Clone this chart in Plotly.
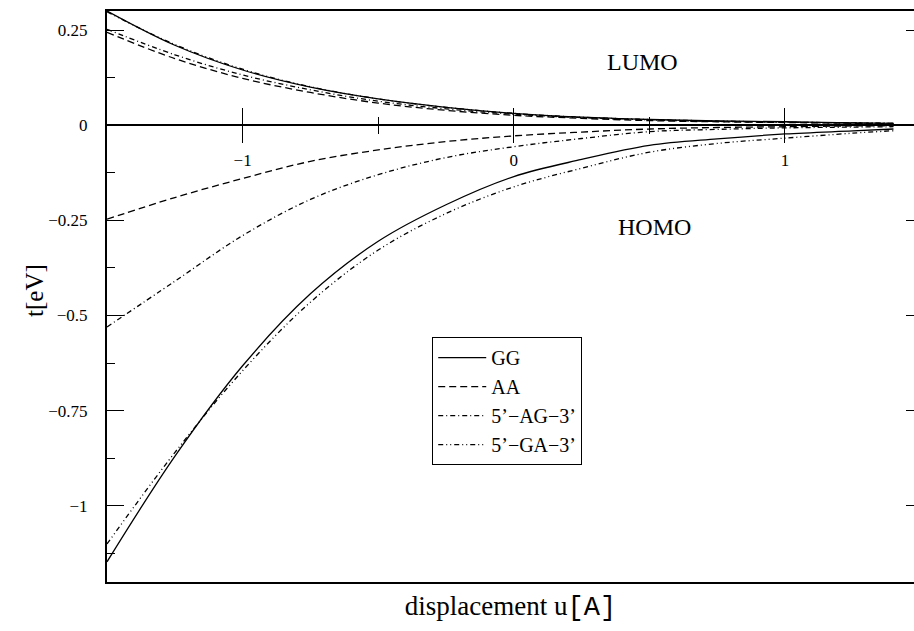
import plotly.graph_objects as go

# displacement u [A]
u = [-1.5, -1.25, -1.0, -0.75, -0.5, -0.25, 0.0, 0.25, 0.5, 0.75, 1.0, 1.25, 1.4]

series_names = ["GG", "AA", "5’−AG−3’", "5’−GA−3’"]

# LUMO transfer integrals t [eV]
lumo_GG = [0.300, 0.210, 0.145, 0.100, 0.069, 0.047, 0.031, 0.021, 0.015, 0.011, 0.009, 0.006, 0.005]
lumo_AA = [0.244, 0.175, 0.123, 0.086, 0.058, 0.039, 0.026, 0.018, 0.012, 0.009, 0.007, 0.005, 0.004]
lumo_AG = [0.252, 0.185, 0.132, 0.093, 0.063, 0.043, 0.029, 0.020, 0.014, 0.010, 0.008, 0.006, 0.005]
lumo_GA = [0.298, 0.212, 0.147, 0.101, 0.069, 0.047, 0.031, 0.021, 0.015, 0.011, 0.008, 0.006, 0.005]

# HOMO transfer integrals t [eV]
homo_GG = [-1.147, -0.870, -0.632, -0.443, -0.305, -0.209, -0.135, -0.090, -0.053, -0.036, -0.023, -0.015, -0.010]
homo_AA = [-0.247, -0.190, -0.140, -0.095, -0.065, -0.043, -0.028, -0.018, -0.010, -0.006, -0.004, -0.002, -0.0015]
homo_AG = [-0.530, -0.410, -0.290, -0.195, -0.130, -0.085, -0.0565, -0.035, -0.017, -0.011, -0.007, -0.005, -0.004]
homo_GA = [-1.100, -0.860, -0.645, -0.465, -0.328, -0.232, -0.162, -0.113, -0.071, -0.048, -0.034, -0.021, -0.0145]

lumo = [lumo_GG, lumo_AA, lumo_AG, lumo_GA]
homo = [homo_GG, homo_AA, homo_AG, homo_GA]
dashes = ["solid", "7px,4px", "5px,3px,1px,3px", "5px,3px,1px,3px,1px,3px"]

y_ticks = [0.25, 0, -0.25, -0.5, -0.75, -1]
x_ticks = [-1, 0, 1]
x_minor = [-0.5, 0.5]

SERIF = "Liberation Serif"

fig = go.Figure()
for name, lo, ho, d in zip(series_names, lumo, homo, dashes):
    fig.add_trace(go.Scatter(x=u, y=ho, mode="lines", name=name, legendgroup=name,
                             line=dict(color="black", width=1.3, dash=d, shape="spline", smoothing=1.0)))
    fig.add_trace(go.Scatter(x=u, y=lo, mode="lines", name=name, legendgroup=name, showlegend=False,
                             line=dict(color="black", width=1.3, dash=d, shape="spline", smoothing=1.0)))

XR = [-1.5, 1.4757]
YR = [-1.2, 0.3]

fig.update_layout(
    width=914, height=631,
    margin=dict(l=107, r=0, t=11, b=49),
    paper_bgcolor="white", plot_bgcolor="white",
    font=dict(family=SERIF, color="black", size=17),
    showlegend=True,
    legend=dict(x=0.403, y=0.429, xanchor="left", yanchor="top",
                bordercolor="black", borderwidth=1, bgcolor="white",
                font=dict(family=SERIF, size=20), itemwidth=48, tracegroupgap=0),
    xaxis=dict(range=XR, anchor="free", position=0.8, showgrid=False, zeroline=False,
               showline=True, linecolor="black", linewidth=1.5,
               tickmode="array", tickvals=x_ticks, ticks="outside", ticklen=17, tickwidth=1.2,
               tickcolor="black", tickfont=dict(family=SERIF, size=17), ticklabelstandoff=3,
               minor=dict(tickmode="array", tickvals=x_minor, ticks="outside", ticklen=8, tickwidth=1.2, tickcolor="black")),
    xaxis2=dict(range=XR, overlaying="x", anchor="free", position=0.8, side="top",
                showgrid=False, zeroline=False, showline=False, showticklabels=False,
                tickmode="array", tickvals=x_ticks, ticks="outside", ticklen=17, tickwidth=1.2, tickcolor="black",
                minor=dict(tickmode="array", tickvals=x_minor, ticks="outside", ticklen=8, tickwidth=1.2, tickcolor="black")),
    xaxis3=dict(range=XR, overlaying="x", anchor="y", side="bottom", showgrid=False, zeroline=False,
                showline=True, mirror=True, linecolor="black", linewidth=2,
                showticklabels=False, ticks="",
                title=dict(text='displacement u<span style="font-family:Liberation Mono">[A]</span>',
                           font=dict(family=SERIF, size=27), standoff=13)),
    yaxis=dict(range=YR, showgrid=False, zeroline=False, showline=True, linecolor="black", linewidth=2,
               tickmode="array", tickvals=y_ticks, ticks="inside", ticklen=17, tickwidth=1.2, tickcolor="black",
               tickfont=dict(family=SERIF, size=17), ticklabelstandoff=14,
               minor=dict(dtick=0.125, tick0=0, ticks="inside", ticklen=8, tickwidth=1.2, tickcolor="black")),
    yaxis2=dict(range=YR, overlaying="y", side="right", anchor="x", showgrid=False, zeroline=False,
                showline=False, showticklabels=False,
                tickmode="array", tickvals=y_ticks, ticks="inside", ticklen=8, tickwidth=1.2, tickcolor="black"),
)

# invisible helper traces so the overlay axes render
fig.add_trace(go.Scatter(x=[XR[0]], y=[0], xaxis="x2", yaxis="y", mode="markers",
                         marker=dict(opacity=0), showlegend=False, hoverinfo="skip"))
fig.add_trace(go.Scatter(x=[XR[0]], y=[0], xaxis="x3", yaxis="y2", mode="markers",
                         marker=dict(opacity=0), showlegend=False, hoverinfo="skip"))

# y-axis title placed as an annotation for precise position
fig.add_annotation(xref="paper", yref="paper", x=-0.089, y=0.51, text="t[eV]", textangle=-90,
                   showarrow=False, xanchor="center", yanchor="middle", font=dict(family=SERIF, size=25))

fig.add_annotation(x=0.476, y=0.166, text="LUMO", showarrow=False, font=dict(family=SERIF, size=24))
fig.add_annotation(x=0.52, y=-0.268, text="HOMO", showarrow=False, font=dict(family=SERIF, size=24))

fig.write_html("out.html")
